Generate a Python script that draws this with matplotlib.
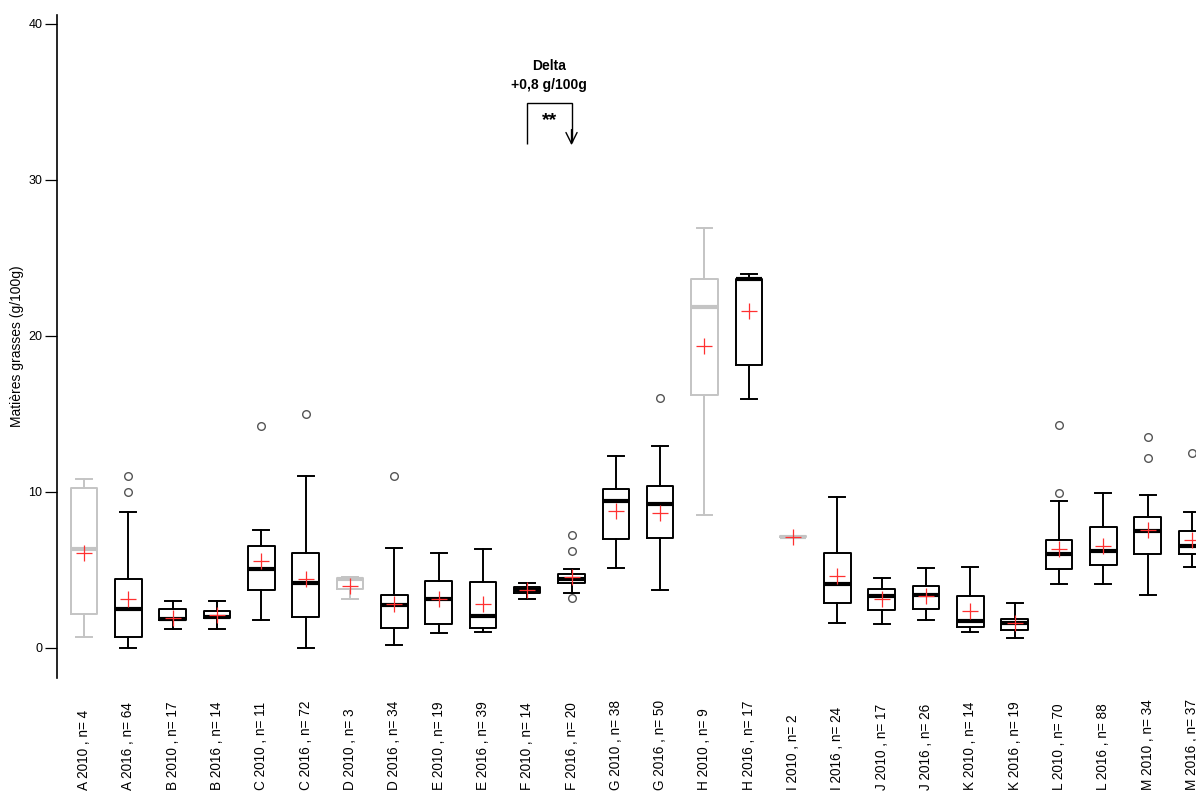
import matplotlib
matplotlib.use("Agg")
import matplotlib.pyplot as plt
import numpy as np

plt.rcParams['font.family'] = ['Liberation Sans', 'DejaVu Sans']

# groups (letter, year, n)
labels = ["A 2010 , n= 4", "A 2016 , n= 64", "B 2010 , n= 17", "B 2016 , n= 14",
          "C 2010 , n= 11", "C 2016 , n= 72", "D 2010 , n= 3", "D 2016 , n= 34",
          "E 2010 , n= 19", "E 2016 , n= 39", "F 2010 , n= 14", "F 2016 , n= 20",
          "G 2010 , n= 38", "G 2016 , n= 50", "H 2010 , n= 9", "H 2016 , n= 17",
          "I 2010 , n= 2", "I 2016 , n= 24", "J 2010 , n= 17", "J 2016 , n= 26",
          "K 2010 , n= 14", "K 2016 , n= 19", "L 2010 , n= 70", "L 2016 , n= 88",
          "M 2010 , n= 34", "M 2016 , n= 37"]
n_obs = [4, 64, 17, 14, 11, 72, 3, 34, 19, 39, 14, 20, 38, 50, 9, 17,
         2, 24, 17, 26, 14, 19, 70, 88, 34, 37]

# box statistics (g/100g)
wlo = [0.68, 0.0, 1.17, 1.17, 1.79, 0.0, 3.09, 0.19, 0.90, 1.00, 3.09, 3.48,
       5.12, 3.69, 8.47, 15.90, 7.08, 1.60, 1.49, 1.77, 1.00, 0.58, 4.08, 4.08,
       3.39, 5.19]
q1 = [2.13, 0.68, 1.75, 1.90, 3.67, 1.96, 3.75, 1.24, 1.49, 1.28, 3.48, 4.16,
      6.98, 7.00, 16.18, 18.08, 7.09, 2.88, 2.39, 2.45, 1.34, 1.15, 5.02, 5.29,
      5.98, 5.98]
med = [6.34, 2.50, 1.81, 1.98, 5.02, 4.16, 4.40, 2.71, 3.09, 1.99, 3.69, 4.42,
       9.39, 9.22, 21.81, 23.59, 7.11, 4.10, 3.31, 3.39, 1.71, 1.60, 5.98, 6.19,
       7.47, 6.49]
q3 = [10.25, 4.38, 2.45, 2.33, 6.49, 6.08, 4.45, 3.39, 4.27, 4.23, 3.88, 4.70,
      10.14, 10.35, 23.59, 23.59, 7.13, 6.04, 3.78, 3.95, 3.27, 1.81, 6.89, 7.71,
      8.37, 7.49]
whi = [10.78, 8.71, 2.99, 2.99, 7.51, 10.99, 4.50, 6.38, 6.08, 6.30, 4.16, 5.02,
       12.27, 12.89, 26.87, 23.97, 7.14, 9.67, 4.48, 5.10, 5.19, 2.88, 9.37, 9.88,
       9.78, 8.71]
means = [6.04, 3.09, 1.92, 2.07, 5.55, 4.38, 3.95, 2.82, 3.09, 2.77, 3.69, 4.55,
         8.75, 8.64, 19.32, 21.54, 7.11, 4.59, 3.14, 3.31, 2.31, 1.60, 6.30, 6.51,
         7.51, 6.87]
outliers = [[], [10.0, 11.0], [], [], [14.17], [14.96], [], [11.0], [], [],
            [], [3.20, 6.17, 7.19], [], [15.97], [], [], [], [], [], [], [], [],
            [9.88, 14.26], [], [12.17, 13.47], [12.47]]

yticks = [0, 10, 20, 30, 40]

W, H = 1196, 792
fig = plt.figure(figsize=(W / 100, H / 100), dpi=100)
ax = fig.add_axes([57 / W, (H - 678) / H, 1 - 57 / W, (678 - 15) / H])

pos = np.arange(1, len(labels) + 1)
stats = []
for i in range(len(labels)):
    stats.append(dict(whislo=wlo[i], q1=q1[i], med=med[i], q3=q3[i], whishi=whi[i],
                      fliers=outliers[i], label=labels[i]))

# groups with few observations are drawn in grey
small = [n < 10 for n in n_obs]
for flag, col in [(False, "black"), (True, "#c4c4c4")]:
    idx = [i for i in range(len(stats)) if small[i] == flag]
    lw = 1.4
    ax.bxp([stats[i] for i in idx], positions=pos[idx], widths=0.6, capwidths=0.36,
           showfliers=True, manage_ticks=False,
           boxprops=dict(color=col, lw=lw),
           whiskerprops=dict(color=col, lw=lw, ls="-"),
           capprops=dict(color=col, lw=lw),
           medianprops=dict(color=col, lw=3.0, solid_capstyle="butt"),
           flierprops=dict(marker="o", mfc="none", mec="#555555", ms=5.5, mew=1.0))

ax.plot(pos, means, ls="none", marker="+", color="#ff3030", ms=12, mew=0.9, zorder=5)

# significance annotation between F 2010 and F 2016
ax.plot([11, 11, 12, 12], [32.3, 34.9, 34.9, 32.4], color="black", lw=1.0,
        solid_joinstyle="miter", solid_capstyle="butt")
ax.annotate("", xy=(12, 32.2), xytext=(12, 33.2),
            arrowprops=dict(arrowstyle="->,head_length=0.8,head_width=0.4",
                            color="black", lw=1.0, shrinkA=0, shrinkB=0))
ax.text(11.5, 37.3, "Delta", ha="center", va="center", fontsize=10, fontweight="bold")
ax.text(11.5, 36.05, "+0,8 g/100g", ha="center", va="center", fontsize=10,
        fontweight="bold")
ax.text(11.5, 33.8, "**", ha="center", va="center", fontsize=14, fontweight="bold")

ax.set_xlim(1 - 27 / 44.32, 26 + 4 / 44.32)
ax.set_ylim((647.5 - 678) / 15.6, (647.5 - 15) / 15.6)
ax.set_yticks(yticks)
ax.set_yticklabels([str(t) for t in yticks], fontsize=9)
ax.tick_params(axis="y", length=8.5, width=0.9, pad=2)
ax.set_xticks([])
for s in ["top", "right", "bottom"]:
    ax.spines[s].set_visible(False)
ax.spines["left"].set_linewidth(1.2)

# group labels start at the bottom edge and read upwards
for p, lab in zip(pos, labels):
    ax.annotate(lab, xy=(p, 0), xycoords=("data", "figure pixels"),
                xytext=(0, 2), textcoords="offset pixels",
                rotation=90, ha="center", va="bottom", fontsize=9.8,
                annotation_clip=False)

fig.text(17 / W, (H - 346) / H, "Matières grasses (g/100g)", rotation=90,
         ha="center", va="center", fontsize=10)

fig.savefig("out.png", dpi=100)
